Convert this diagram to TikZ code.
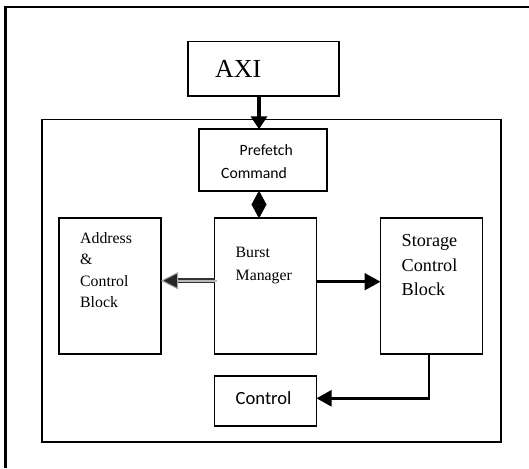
\documentclass[tikz,border=0pt]{standalone}
\usepackage{fontspec}
\setmainfont{Liberation Serif}
\newfontfamily\carlitofont{Carlito}
\usetikzlibrary{arrows.meta,calc}
\begin{document}
\begin{tikzpicture}[x=1pt,y=-1pt,
  box/.style={draw=black, line width=1.7pt, rectangle, inner sep=0pt, outer sep=0pt, fill=white},
  txt/.style={anchor=base west, inner sep=0pt},
  tnr/.style={txt, font=\fontsize{15.8}{18}\selectfont},
  big/.style={txt, font=\fontsize{18.2}{21}\selectfont},
  cal/.style={txt, font=\carlitofont\fontsize{15.7}{18}\selectfont},
  calbig/.style={txt, font=\carlitofont\fontsize{18.6}{21}\selectfont},
  frame/.style={draw=black, line width=2.4pt}
]
\useasboundingbox[fill=white] (0,0) rectangle (529,468);
% outer frame (only top and left visible)
\draw[frame] (5.5,468) -- (5.5,7) -- (529,7);
% inner frame
\node[box, minimum width=458.5pt, minimum height=322.9pt] (inner) at (271.45,280.85) {};
% boxes
\node[box, minimum width=151pt, minimum height=54.5pt] (axi) at (263.5,68.75) {};
\node[box, minimum width=128pt, minimum height=61.4pt] (prefetch) at (263.3,160) {};
\node[box, minimum width=102pt, minimum height=135.4pt] (address) at (110,286) {};
\node[box, minimum width=101.9pt, minimum height=135.4pt] (burst) at (265.55,286) {};
\node[box, minimum width=101.9pt, minimum height=135.4pt] (storage) at (431.55,286) {};
\node[box, minimum width=101.9pt, minimum height=50.6pt] (control) at (265.55,401) {};
% texts
\node[txt, font=\fontsize{26}{30}\selectfont] (taxi) at (215,77.7) {AXI};
\node[cal] (tpre1) at (239.5,155) {Prefetch};
\node[cal] (tpre2) at (221,178.3) {Command};
\node[tnr] (tad1) at (80,243.3) {Address};
\node[tnr] (tad2) at (80,264.3) {\&};
\node[tnr] (tad3) at (80,286) {Control};
\node[tnr] (tad4) at (80,307.3) {Block};
\node[tnr] (tbu1) at (235.5,257.7) {Burst};
\node[tnr] (tbu2) at (235.5,280.7) {Manager};
\node[big] (tst1) at (401.5,246) {Storage};
\node[big] (tst2) at (401.5,271) {Control};
\node[big] (tst3) at (401.5,295.3) {Block};
\node[calbig] (tco) at (235.5,404.3) {Control};
% helper coordinates
\coordinate (xa) at (259,0);
\coordinate (ya) at (0,280.7);
\coordinate (yb) at (0,281.7);
\coordinate (xs) at (429.2,0);
\coordinate (yc) at (0,398.3);
% AXI -> Prefetch
\draw[line width=4.5pt, -{Triangle[length=13pt,width=16pt]}] (axi.south -| xa) -- (prefetch.north -| xa);
% Prefetch <-> Burst (diamond)
\draw[line width=0.5pt, {Triangle[length=14pt,width=15pt]}-{Triangle[length=14pt,width=15pt]}] (prefetch.south -| xa) -- (burst.north -| xa);
% Burst -> Address (double gray)
\draw[line width=5.5pt, black!80] (burst.west |- ya) -- ($(address.east |- ya)+(16,0)$);
\draw[line width=2.2pt, gray!55] ($(burst.west |- ya)+(2,0)$) -- ($(address.east |- ya)+(16,0)$);
\draw[line width=0.2pt, draw=gray!70, -{Triangle[length=17pt,width=17pt, fill=black!85, line width=1pt]}] ($(address.east |- ya)+(18,0)$) -- (address.east |- ya);
% Burst -> Storage
\draw[line width=3.2pt, -{Triangle[length=16pt,width=16.5pt]}] (burst.east |- yb) -- (storage.west |- yb);
% Storage -> Control
\draw[line width=2.4pt, -{Triangle[length=15pt,width=16pt]}] (storage.south -| xs) -- (xs |- yc) -- (control.east |- yc);
\end{tikzpicture}
\end{document}
